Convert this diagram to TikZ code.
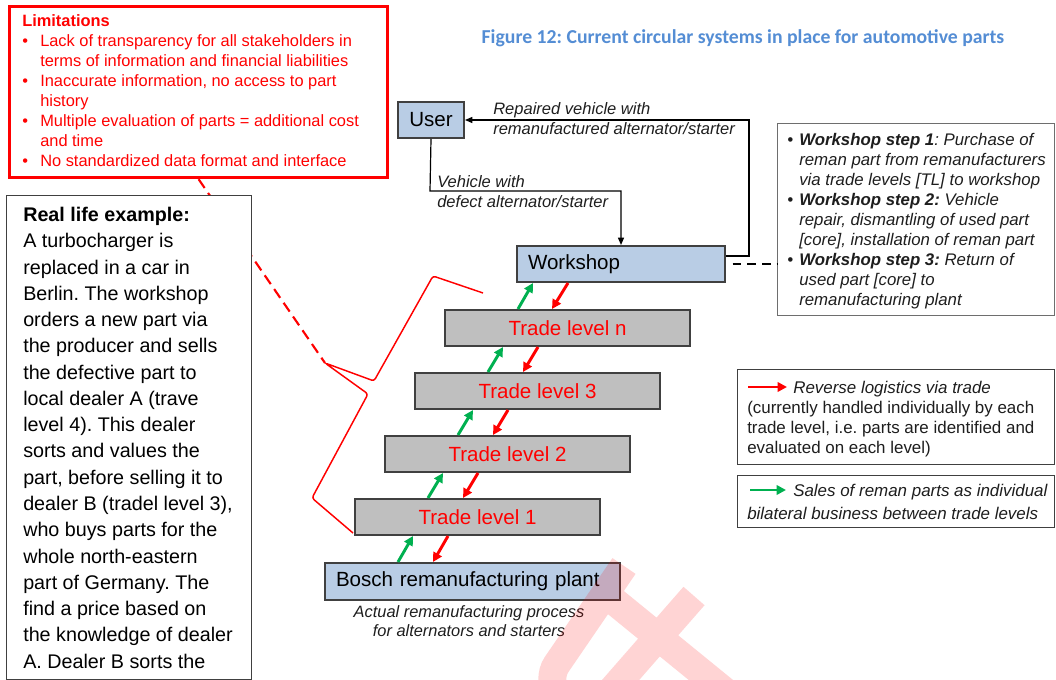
\documentclass[tikz,border=0pt]{standalone}
\usepackage{fontspec}
\setmainfont{Liberation Sans}
\newfontfamily\headfont{Carlito}
\usetikzlibrary{arrows.meta,calc}

\definecolor{boxblue}{RGB}{185,205,229}
\definecolor{boxgray}{RGB}{191,191,191}
\definecolor{edgegray}{RGB}{64,64,64}
\definecolor{notegray}{RGB}{110,110,110}
\definecolor{salesgreen}{RGB}{0,176,80}
\definecolor{titleblue}{RGB}{84,141,212}
\definecolor{inkdark}{RGB}{30,30,30}

\newcommand{\pxu}{0.75pt}
\newcommand{\fsz}[2]{\fontsize{#1}{#2}\selectfont}
\newcommand{\hang}[1]{\makebox[#1][l]{\textbullet}}
\frenchspacing

\begin{document}
\begin{tikzpicture}[x=0.75pt,y=-0.75pt,
  stage/.style={draw=edgegray, line width=1.5pt, anchor=north west, inner sep=0pt,
                font=\fsz{15.4pt}{18pt}},
  bluebox/.style={stage, fill=boxblue},
  graybox/.style={stage, fill=boxgray, text=red, align=center},
  framebox/.style={anchor=north west, inner sep=0pt, fill=white},
  txt/.style={anchor=north west, inner sep=0pt, align=left},
  flow/.style={draw=black, line width=0.9pt, -{Triangle[length=5.5pt,width=4.5pt]}},
  sales/.style={draw=salesgreen, line width=2.2pt, -{Triangle[length=7pt,width=7pt]}},
  reverse/.style={draw=red, line width=2.2pt, -{Triangle[length=7pt,width=7pt]}},
  elabel/.style={anchor=west, inner sep=0pt, align=left, font=\fsz{12.4pt}{15pt}\itshape, text=inkdark}
]
\useasboundingbox (0,0) rectangle (1056,680);

% ---------- limitations box ----------
\node[framebox, draw=red, line width=2.4pt, minimum width=378*\pxu, minimum height=171*\pxu] (lim) at (8,5) {};
\node[txt, text=red, font=\fsz{12.3pt}{15pt}] (limtxt) at (22,14) {%
  \textbf{Limitations}\\
  \hang{13.5pt}Lack of transparency for all stakeholders in\\
  \hspace*{13.5pt}terms of information and financial liabilities\\
  \hang{13.5pt}Inaccurate information, no access to part\\
  \hspace*{13.5pt}history\\
  \hang{13.5pt}Multiple evaluation of parts = additional cost\\
  \hspace*{13.5pt}and time\\
  \hang{13.5pt}No standardized data format and interface};

% ---------- callout from the limitations to the trade levels ----------
\coordinate (btip) at (325,363);
\draw[red, line width=1.6pt, dash pattern=on 8pt off 4.5pt] (lim.south) -- (btip);
\draw[red, line width=1.1pt, rounded corners=2pt]
  (483,293) -- (433,276) -- (374,381) -- (btip) -- (368,394) -- (312,498) -- (353,533);

% ---------- real life example ----------
\node[framebox, draw=edgegray, line width=1.1pt, minimum width=245*\pxu, minimum height=484*\pxu] (ex) at (6,195) {};
\node[txt, text=black, font=\fsz{14.8pt}{19.7pt}] (extxt) at (23,207) {%
  \textbf{Real life example:}\\
  A turbocharger is\\
  replaced in a car in\\
  Berlin. The workshop\\
  orders a new part via\\
  the producer and sells\\
  the defective part to\\
  local dealer A (trave\\
  level 4). This dealer\\
  sorts and values the\\
  part, before selling it to\\
  dealer B (tradel level 3),\\
  who buys parts for the\\
  whole north-eastern\\
  part of Germany. The\\
  find a price based on\\
  the knowledge of dealer\\
  A. Dealer B sorts the};

% ---------- title ----------
\node[inner sep=0pt, text=titleblue, font=\headfont\bfseries\fsz{14.8pt}{17pt}] (title) at (743,38)
  {Figure 12: Current circular systems in place for automotive parts};

% ---------- actors and trade chain ----------
\node[bluebox, minimum width=66*\pxu, minimum height=36*\pxu, align=center] (user) at (397,101) {User};
\node[bluebox, minimum width=208*\pxu, minimum height=36*\pxu, text width=186*\pxu,
      align=left, inner xsep=11*\pxu] (wk) at (516,245) {Workshop};
\node[graybox, minimum width=245*\pxu, minimum height=36*\pxu] (tln) at (444,309) {Trade level n};
\node[graybox, minimum width=245*\pxu, minimum height=36*\pxu] (tl3) at (414,372) {Trade level 3};
\node[graybox, minimum width=245*\pxu, minimum height=36*\pxu] (tl2) at (384,435) {Trade level 2};
\node[graybox, minimum width=245*\pxu, minimum height=36*\pxu] (tl1) at (354,498) {Trade level 1};
\node[bluebox, minimum width=295*\pxu, minimum height=37*\pxu, text width=273*\pxu,
      align=left, inner xsep=11*\pxu] (plant) at (324,562) {Bosch remanufacturing plant};
\node[inner sep=0pt, align=center, font=\fsz{12.3pt}{14.3pt}\itshape, text=inkdark] (plantcap)
  at (469,621) {Actual remanufacturing process\\for alternators and starters};

% ---------- vehicle flow between user and workshop ----------
\coordinate (ua) at (430,191);
\draw[flow] (user.south) -- (ua) -| (wk.north);
\node[elabel] (lbldef) at (437,192) {Vehicle with\\defect alternator/starter};
\coordinate (rt) at (749,256);
\draw[flow] (wk.east |- rt) -- (rt) |- (user.east);
\node[elabel] (lblret) at (493,119) {Repaired vehicle with\\remanufactured alternator/starter};

% ---------- sales (up) and reverse logistics (down) ----------
\draw[sales]   ($(tln.north west)+(74,0)$)  -- ($(wk.south west)+(17,0)$);
\draw[reverse] ($(wk.south west)+(52,0)$)   -- ($(tln.north west)+(108,0)$);
\draw[sales]   ($(tl3.north west)+(74,0)$)  -- ($(tln.south west)+(59,0)$);
\draw[reverse] ($(tln.south west)+(94,0)$)  -- ($(tl3.north west)+(109,0)$);
\draw[sales]   ($(tl2.north west)+(74,0)$)  -- ($(tl3.south west)+(59,0)$);
\draw[reverse] ($(tl3.south west)+(94,0)$)  -- ($(tl2.north west)+(109,0)$);
\draw[sales]   ($(tl1.north west)+(74,0)$)  -- ($(tl2.south west)+(59,0)$);
\draw[reverse] ($(tl2.south west)+(94,0)$)  -- ($(tl1.north west)+(109,0)$);
\draw[sales]   ($(plant.north west)+(74,0)$) -- ($(tl1.south west)+(59,0)$);
\draw[reverse] ($(tl1.south west)+(94,0)$)  -- ($(plant.north west)+(109,0)$);

% ---------- workshop steps ----------
\node[framebox, draw=notegray, line width=0.9pt, minimum width=277*\pxu, minimum height=192*\pxu] (steps) at (777,123) {};
\node[txt, text=inkdark, font=\fsz{12.6pt}{15pt}\itshape] (stepstxt) at (787,133) {%
  \hang{9pt}\textbf{Workshop step 1}: Purchase of\\
  \hspace*{9pt}reman part from remanufacturers\\
  \hspace*{9pt}via trade levels [TL] to workshop\\
  \hang{9pt}\textbf{Workshop step 2:} Vehicle\\
  \hspace*{9pt}repair, dismantling of used part\\
  \hspace*{9pt}[core], installation of reman part\\
  \hang{9pt}\textbf{Workshop step 3:} Return of\\
  \hspace*{9pt}used part [core] to\\
  \hspace*{9pt}remanufacturing plant};
\draw[black, line width=1.2pt, dash pattern=on 6.5pt off 4.5pt] ([xshift=5pt]wk.east) -- (wk.east -| steps.west);

% ---------- legend ----------
\node[framebox, draw=edgegray, line width=1.1pt, minimum width=317*\pxu, minimum height=95*\pxu] (leg1) at (737,369) {};
\coordinate (lr0) at (748,387);
\coordinate (lr1) at (787,387);
\draw[reverse] (lr0) -- (lr1);
\node[txt, text=inkdark, font=\fsz{12.7pt}{15pt}] (leg1txt) at (747,381) {%
  \hspace*{34.5pt}\textit{Reverse logistics via trade}\\
  (currently handled individually by each\\
  trade level, i.e. parts are identified and\\
  evaluated on each level)};
\node[framebox, draw=edgegray, line width=1.1pt, minimum width=317*\pxu, minimum height=52*\pxu] (leg2) at (737,475) {};
\coordinate (lg0) at (750,490);
\coordinate (lg1) at (786,490);
\draw[sales] (lg0) -- (lg1);
\node[txt, text=inkdark, font=\fsz{12.7pt}{17pt}\itshape] (leg2txt) at (747,484) {%
  \hspace*{34.5pt}Sales of reman parts as individual\\
  bilateral business between trade levels};

% ---------- faint watermark ----------
\draw[red, draw opacity=0.17, line width=21pt, rounded corners=14pt]
  (624,566) -- (546,680) -- (590,740)
  (598,588) -- (760,720)
  (694,596) -- (590,715);
\end{tikzpicture}
\end{document}
